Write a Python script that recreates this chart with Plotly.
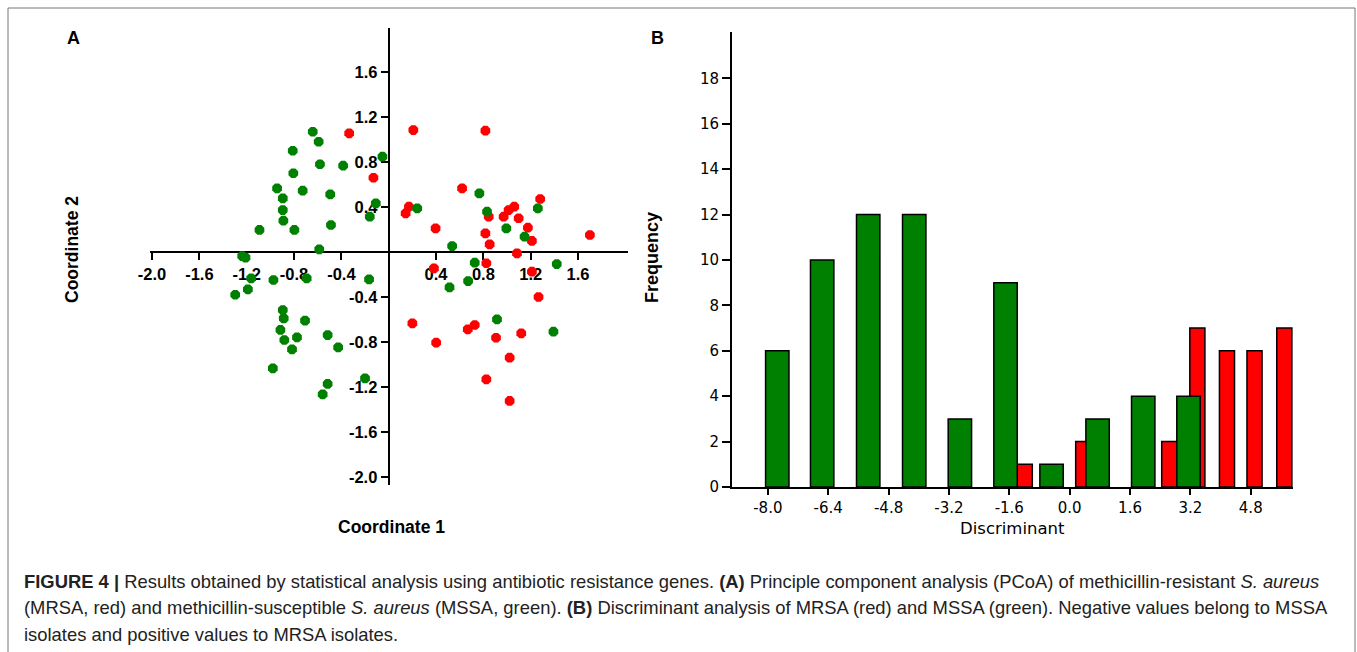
import plotly.graph_objects as go

# ---------------- data ----------------
# Panel A: PCoA coordinates
mssa_x = [-0.642, -0.592, -0.811, -0.053, -0.581, -0.385, -0.806, -0.943, -0.727, -0.494,
          -0.895, -0.109, -0.895, -0.160, -0.890, -1.092, -0.797, -0.488, -0.587, -1.238,
          -1.210, -0.974, -0.693, -0.166, -1.297, -1.190, -1.162, -0.895, -0.887, -0.707,
          -0.915, -0.516, -0.882, -0.775, -0.817, -0.427, -0.979, -0.516, -0.200, -0.558,
          0.241, 0.766, 0.831, 1.260, 0.994, 1.148, 0.536, 0.727, 1.420, 0.514,
          0.671, 0.915, 1.392]
mssa_y = [1.069, 0.980, 0.900, 0.847, 0.780, 0.767, 0.700, 0.566, 0.545, 0.513,
          0.477, 0.433, 0.373, 0.314, 0.278, 0.196, 0.196, 0.240, 0.024, -0.036,
          -0.050, -0.249, -0.234, -0.243, -0.380, -0.332, -0.234, -0.516, -0.590, -0.610,
          -0.693, -0.738, -0.782, -0.758, -0.865, -0.847, -1.034, -1.173, -1.123, -1.265,
          0.388, 0.521, 0.358, 0.388, 0.210, 0.136, 0.053, -0.095, -0.107, -0.314,
          -0.258, -0.598, -0.708]
mrsa_x = [-0.334, -0.129, 0.208, 0.817, 0.620, 0.171, 0.143, 1.280, 0.396, 0.845,
          0.971, 1.013, 1.061, 1.098, 1.176, 1.210, 0.817, 0.853, 1.700, 1.084,
          0.825, 0.382, 1.210, 1.266, 0.200, 0.668, 0.727, 0.401, 0.907, 1.120,
          1.022, 0.825, 1.022]
mrsa_y = [1.055, 0.660, 1.084, 1.078, 0.566, 0.403, 0.344, 0.471, 0.210, 0.314,
          0.314, 0.373, 0.403, 0.300, 0.216, 0.098, 0.166, 0.068, 0.151, -0.012,
          -0.100, -0.145, -0.175, -0.400, -0.634, -0.687, -0.649, -0.806, -0.762, -0.723,
          -0.939, -1.132, -1.324]
pcoa_ticks = [-2.0, -1.6, -1.2, -0.8, -0.4, 0.4, 0.8, 1.2, 1.6]

# Panel B: discriminant histogram
mssa_bin = [-7.75, -6.56, -5.34, -4.12, -2.91, -1.70, -0.48, 0.74, 1.95, 3.15]
mssa_freq = [6, 10, 12, 12, 3, 9, 1, 3, 4, 4]
mrsa_bin = [-1.19, 0.36, 2.64, 3.385, 4.17, 4.90, 5.69]
mrsa_freq = [1, 2, 2, 7, 6, 6, 7]
disc_ticks = [-8.0, -6.4, -4.8, -3.2, -1.6, 0.0, 1.6, 3.2, 4.8]
freq_ticks = [0, 2, 4, 6, 8, 10, 12, 14, 16, 18]

# ---------------- layout helpers ----------------
W, H = 1357, 652
def px(x):
    return x / W
def py(y):
    return 1 - y / H

GREEN = "#008000"
RED = "#ff0000"

fig = go.Figure()

fig.add_trace(go.Scatter(x=mrsa_x, y=mrsa_y, mode="markers", name="MRSA",
                         marker=dict(symbol="octagon", size=10.5, color=RED,
                                     line=dict(width=0)),
                         xaxis="x", yaxis="y", showlegend=False))
fig.add_trace(go.Scatter(x=mssa_x, y=mssa_y, mode="markers", name="MSSA",
                         marker=dict(symbol="octagon", size=10.5, color=GREEN,
                                     line=dict(width=0)),
                         xaxis="x", yaxis="y", showlegend=False))

fig.add_trace(go.Bar(x=mrsa_bin, y=mrsa_freq, width=0.4, name="MRSA",
                     marker=dict(color=RED, line=dict(color="black", width=1.5)),
                     xaxis="x2", yaxis="y2", showlegend=False))
fig.add_trace(go.Bar(x=mssa_bin, y=mssa_freq, width=0.62, name="MSSA",
                     marker=dict(color=GREEN, line=dict(color="black", width=1.5)),
                     xaxis="x2", yaxis="y2", showlegend=False))

fontA = dict(family="Liberation Sans, Arial, sans-serif", size=16.5, color="black", weight="bold")
fontB = dict(family="DejaVu Sans, Verdana, sans-serif", size=15, color="black")

axA = dict(showgrid=False, zeroline=False, showline=True, linecolor="black", linewidth=2,
           ticks="outside", ticklen=7, tickwidth=2, tickcolor="black", automargin=False,
           tickfont=fontA, layer="below traces")
axB = dict(showgrid=False, zeroline=False, showline=True, linecolor="black", linewidth=2,
           ticks="outside", tickwidth=2, tickcolor="black", automargin=False, tickfont=fontB)

fig.update_layout(
    width=W, height=H, margin=dict(l=0, r=0, t=0, b=0, pad=0, autoexpand=False),
    paper_bgcolor="white", plot_bgcolor="rgba(0,0,0,0)",
    barmode="overlay",
    xaxis=dict(axA, domain=[px(150), px(628)], range=[-2.017, 2.022], anchor="free",
               position=py(252), tickvals=pcoa_ticks,
               ticktext=[f"{v:.1f}" for v in pcoa_ticks]),
    yaxis=dict(axA, domain=[py(485), py(28)], range=[-2.071, 1.991], anchor="free",
               position=px(388.7), tickvals=pcoa_ticks,
               ticktext=[f"{v:.1f}" for v in pcoa_ticks]),
    xaxis2=dict(axB, domain=[px(732), px(1293)], range=[-8.95, 5.92], anchor="y2",
                ticklen=6, tickvals=disc_ticks,
                ticktext=[f"{v:.1f}" for v in disc_ticks]),
    yaxis2=dict(axB, domain=[py(487), py(31.7)], range=[0, 20.05], anchor="x2",
                ticklen=8, tickvals=freq_ticks,
                ticktext=[str(v) for v in freq_ticks]),
)

ann = []
ann.append(dict(text="A", x=px(73), y=py(38), font=dict(family="Liberation Sans", size=18, weight="bold", color="black")))
ann.append(dict(text="B", x=px(657), y=py(38), font=dict(family="Liberation Sans", size=18, weight="bold", color="black")))
ann.append(dict(text="Coordinate 1", x=px(391), y=py(527), font=dict(family="Liberation Sans", size=17.5, weight="bold", color="black")))
ann.append(dict(text="Coordinate 2", x=px(72), y=py(250), textangle=-90, font=dict(family="Liberation Sans", size=17.5, weight="bold", color="black")))
ann.append(dict(text="Frequency", x=px(652), y=py(258), textangle=-90, font=dict(family="Liberation Sans", size=18, weight="bold", color="black")))
ann.append(dict(text="Discriminant", x=px(1013), y=py(528), font=dict(family="DejaVu Sans", size=16.5, color="black")))
for a in ann:
    a.update(xref="paper", yref="paper", showarrow=False, xanchor="center", yanchor="middle")

cap_font = dict(family="Liberation Sans, Arial, sans-serif", size=18.4, color="#222222")
caption = [
    "<b>FIGURE 4 |</b> Results obtained by statistical analysis using antibiotic resistance genes. <b>(A)</b> Principle component analysis (PCoA) of methicillin-resistant <i>S. aureus</i>",
    "(MRSA, red) and methicillin-susceptible <i>S. aureus</i> (MSSA, green). <b>(B)</b> Discriminant analysis of MRSA (red) and MSSA (green). Negative values belong to MSSA",
    "isolates and positive values to MRSA isolates.",
]
for i, line in enumerate(caption):
    ann.append(dict(text=line, x=px(22), y=py(581 + 26.5 * i), xref="paper", yref="paper",
                    showarrow=False, xanchor="left", yanchor="middle", align="left", font=cap_font))
fig.update_layout(annotations=ann)

fig.add_shape(type="rect", xref="paper", yref="paper", x0=px(8), x1=px(1355),
              y0=py(680), y1=py(8), line=dict(color="#777777", width=1))

fig.write_html(
    "out.html",
    config={"displayModeBar": False},
    post_script="document.body.style.margin='0';document.documentElement.style.overflow='hidden';document.body.style.overflow='hidden';",
)
